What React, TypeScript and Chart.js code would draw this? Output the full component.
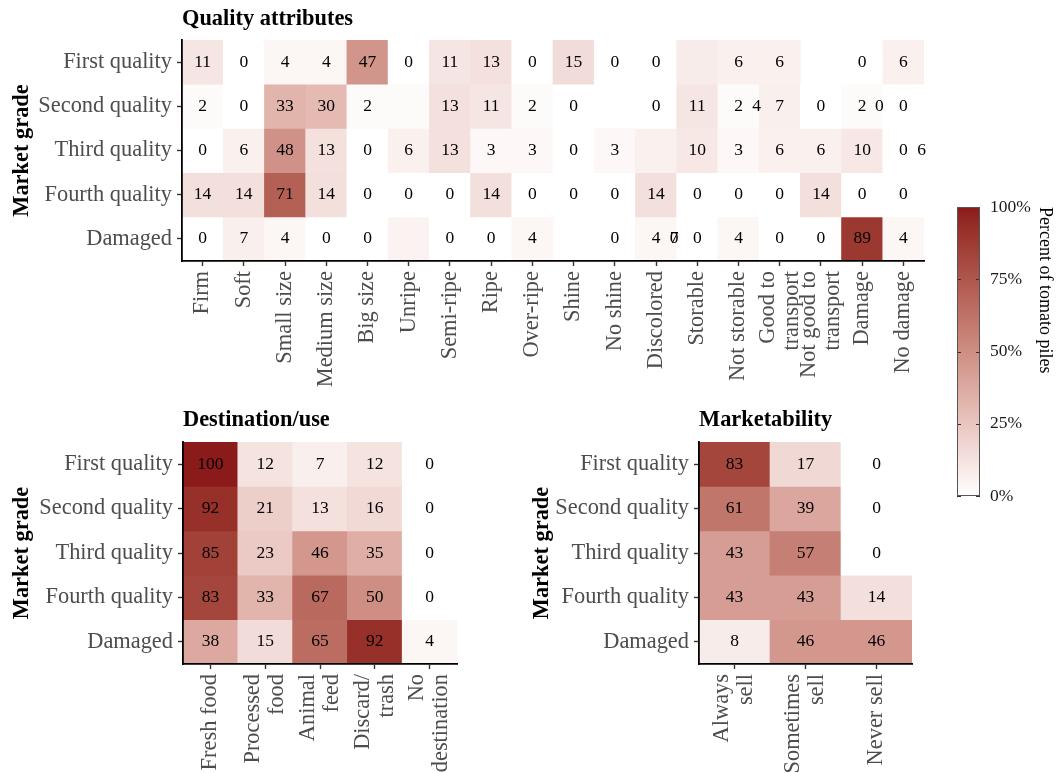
import React, { useEffect, useRef } from "react";
import { Chart, registerables } from "chart.js";

Chart.register(...registerables);

type Cell = number | null;

const SERIF = "'Liberation Serif', 'Times New Roman', Times, serif";

// Market grades, one heatmap row each (top to bottom)
const grades = ["First quality", "Second quality", "Third quality", "Fourth quality", "Damaged"];

// Quality attributes panel
const qualityAttributes: string[][] = [
  ["Firm"], ["Soft"], ["Small size"], ["Medium size"], ["Big size"], ["Unripe"],
  ["Semi-ripe"], ["Ripe"], ["Over-ripe"], ["Shine"], ["No shine"], ["Discolored"],
  ["Storable"], ["Not storable"], ["Good to", "transport"], ["Not good to", "transport"],
  ["Damage"], ["No damage"],
];
const qualityPct: Cell[][] = [
  [11, 0, 4, 4, 47, 0, 11, 13, 0, 15, 0, 0, 8, 6, 6, null, 0, 6],
  [2, 0, 33, 30, 2, 2, 13, 11, 2, 0, null, 0, 11, 2, 7, 0, 2, 0],
  [0, 6, 48, 13, 0, 6, 13, 3, 3, 0, 3, 6, 10, 3, 6, 6, 10, 0],
  [14, 14, 71, 14, 0, 0, 0, 14, 0, 0, 0, 14, 0, 0, 0, 14, 0, 0],
  [0, 7, 4, 0, 0, 5, 0, 0, 4, null, 0, 4, 0, 4, 0, 0, 89, 4],
];
// tiles printed without a number: [row, column]
const qualityUnlabeled: [number, number][] = [[0, 12], [1, 5], [2, 11], [4, 5]];
// numbers printed between columns (category position, in column units)
const qualityExtraLabels = [
  { row: 1, pos: 13.44, text: "4" },
  { row: 1, pos: 16.42, text: "0" },
  { row: 2, pos: 17.44, text: "6" },
  { row: 4, pos: 11.44, text: "0" },
  { row: 4, pos: 11.44, text: "7" },
];

// Destination/use panel
const destinationUses: string[][] = [
  ["Fresh food"], ["Processed", "food"], ["Animal", "feed"], ["Discard/", "trash"], ["No", "destination"],
];
const destinationPct: Cell[][] = [
  [100, 12, 7, 12, 0],
  [92, 21, 13, 16, 0],
  [85, 23, 46, 35, 0],
  [83, 33, 67, 50, 0],
  [38, 15, 65, 92, 4],
];

// Marketability panel
const marketOutcomes: string[][] = [["Always", "sell"], ["Sometimes", "sell"], ["Never sell"]];
const marketPct: Cell[][] = [
  [83, 17, 0],
  [61, 39, 0],
  [43, 57, 0],
  [43, 43, 14],
  [8, 46, 46],
];

// Colour bar
const legendTicks = [0, 25, 50, 75, 100];
const legendTitle = "Percent of tomato piles";
const LOW_RGB = [255, 255, 255];
const HIGH_RGB = [139, 26, 26];

// ---- colour scale: white -> firebrick, interpolated in CIE Lab ----
function toLinear(c: number) {
  const v = c / 255;
  return v <= 0.04045 ? v / 12.92 : Math.pow((v + 0.055) / 1.055, 2.4);
}
function fromLinear(c: number) {
  const v = c <= 0.0031308 ? 12.92 * c : 1.055 * Math.pow(c, 1 / 2.4) - 0.055;
  return Math.round(Math.min(1, Math.max(0, v)) * 255);
}
function rgbToLab(rgb: number[]) {
  const [R, G, B] = rgb.map(toLinear);
  const X = (0.4124564 * R + 0.3575761 * G + 0.1804375 * B) / 0.95047;
  const Y = 0.2126729 * R + 0.7151522 * G + 0.072175 * B;
  const Z = (0.0193339 * R + 0.119192 * G + 0.9503041 * B) / 1.08883;
  const f = (t: number) => (t > 0.008856 ? Math.cbrt(t) : 7.787 * t + 16 / 116);
  const fx = f(X), fy = f(Y), fz = f(Z);
  return [116 * fy - 16, 500 * (fx - fy), 200 * (fy - fz)];
}
function labToRgb(lab: number[]) {
  const [L, a, b] = lab;
  const fy = (L + 16) / 116, fx = fy + a / 500, fz = fy - b / 200;
  const inv = (t: number) => (t * t * t > 0.008856 ? t * t * t : (t - 16 / 116) / 7.787);
  const X = inv(fx) * 0.95047, Y = inv(fy), Z = inv(fz) * 1.08883;
  const R = 3.2404542 * X - 1.5371385 * Y - 0.4985314 * Z;
  const G = -0.969266 * X + 1.8760108 * Y + 0.041556 * Z;
  const B = 0.0556434 * X - 0.2040259 * Y + 1.0572252 * Z;
  return [fromLinear(R), fromLinear(G), fromLinear(B)];
}
const LOW_LAB = rgbToLab(LOW_RGB);
const HIGH_LAB = rgbToLab(HIGH_RGB);
function fillColor(v: number) {
  const t = Math.max(0, Math.min(1, v / 100));
  const lab = LOW_LAB.map((l, i) => l + (HIGH_LAB[i] - l) * t);
  const [r, g, b] = labToRgb(lab);
  return `rgb(${r},${g},${b})`;
}

// ---- heatmap panels ----
interface Box { x: number; y: number; w: number; h: number }
interface Area { L: number; T: number; R: number; B: number }
interface PanelSpec {
  box: Box;
  area: Area;
  title: string;
  titleBaseline: number;
  cols: string[][];
  values: Cell[][];
  unlabeled?: [number, number][];
  extra?: { row: number; pos: number; text: string }[];
}

const TICK_FONT = 22.4;
const CELL_FONT = 17.5;
const LINE_GAP = 24;

function heatmapConfig(p: PanelSpec): any {
  const { box, area, cols, values } = p;
  const unlabeled = new Set((p.unlabeled || []).map(([r, c]) => `${r}:${c}`));
  const extra = p.extra || [];

  const datasets = grades.map((g, r) => ({
    label: g,
    data: cols.map((_, c) => (values[r][c] == null ? null : [r - 0.5, r + 0.5])),
    backgroundColor: cols.map((_, c) => (values[r][c] == null ? "rgba(0,0,0,0)" : fillColor(values[r][c] as number))),
    borderWidth: 0,
    categoryPercentage: 1,
    barPercentage: 1,
    grouped: false,
  }));

  const textPlugin = {
    id: "panelText",
    afterDatasetsDraw(chart: any) {
      const ctx = chart.ctx;
      const xs = chart.scales.x;
      const ys = chart.scales.y;
      ctx.save();
      ctx.font = `${CELL_FONT}px ${SERIF}`;
      ctx.fillStyle = "#000";
      ctx.textAlign = "center";
      ctx.textBaseline = "middle";
      values.forEach((row, r) =>
        row.forEach((v, c) => {
          if (v == null || unlabeled.has(`${r}:${c}`)) return;
          ctx.fillText(String(v), xs.getPixelForValue(c), ys.getPixelForValue(r));
        })
      );
      extra.forEach((e) => ctx.fillText(e.text, xs.getPixelForValue(e.pos), ys.getPixelForValue(e.row)));
      ctx.restore();
    },
    afterDraw(chart: any) {
      const ctx = chart.ctx;
      const xs = chart.scales.x;
      const ca = chart.chartArea;
      ctx.save();
      // rotated category labels, each line right-aligned under its tick
      ctx.font = `${TICK_FONT}px ${SERIF}`;
      ctx.fillStyle = "#4D4D4D";
      ctx.textAlign = "right";
      ctx.textBaseline = "middle";
      cols.forEach((lines, i) => {
        const x = xs.getPixelForTick(i);
        lines.forEach((line, j) => {
          const dx = (j - (lines.length - 1) / 2) * LINE_GAP;
          ctx.save();
          ctx.translate(x + dx, ca.bottom + 10);
          ctx.rotate(-Math.PI / 2);
          ctx.fillText(line, 0, 0);
          ctx.restore();
        });
      });
      // panel title
      ctx.font = `bold ${TICK_FONT}px ${SERIF}`;
      ctx.fillStyle = "#000";
      ctx.textAlign = "left";
      ctx.textBaseline = "alphabetic";
      ctx.fillText(p.title, ca.left, p.titleBaseline - box.y);
      // y axis title
      ctx.save();
      ctx.translate(28, (ca.top + ca.bottom) / 2);
      ctx.rotate(-Math.PI / 2);
      ctx.textAlign = "center";
      ctx.fillText("Market grade", 0, 0);
      ctx.restore();
      ctx.restore();
    },
  };

  const axisGrid = {
    display: true,
    offset: false,
    z: 1,
    drawOnChartArea: false,
    drawTicks: true,
    tickLength: 5,
    tickColor: "#333333",
    tickWidth: 1.4,
  };
  const axisBorder = { display: true, color: "#000", width: 1.8, z: 1 };

  return {
    type: "bar",
    data: { labels: cols.map((c) => c.join(" ")), datasets },
    options: {
      animation: false,
      responsive: false,
      events: [],
      layout: { padding: { left: 0, top: area.T - box.y, right: box.x + box.w - area.R, bottom: 0 } },
      plugins: { legend: { display: false }, tooltip: { enabled: false }, title: { display: false } },
      scales: {
        x: {
          type: "category",
          offset: true,
          grid: axisGrid,
          border: axisBorder,
          ticks: { display: false },
          afterFit: (s: any) => {
            s.height = box.y + box.h - area.B;
          },
        },
        y: {
          type: "linear",
          reverse: true,
          min: -0.5,
          max: grades.length - 0.5,
          afterBuildTicks: (s: any) => {
            s.ticks = grades.map((_, i) => ({ value: i }));
          },
          grid: axisGrid,
          border: axisBorder,
          ticks: {
            autoSkip: false,
            padding: 5,
            color: "#4D4D4D",
            font: { family: SERIF, size: TICK_FONT },
            callback: (v: any) => grades[Math.round(Number(v))] ?? "",
          },
          afterFit: (s: any) => {
            s.width = area.L - box.x;
          },
        },
      },
    },
    plugins: [textPlugin],
  };
}

function colorbarConfig(box: Box, area: Area): any {
  const barPlugin = {
    id: "barFrame",
    afterDatasetsDraw(chart: any) {
      const ctx = chart.ctx;
      const ca = chart.chartArea;
      const ys = chart.scales.y;
      ctx.save();
      ctx.strokeStyle = "#333333";
      ctx.lineWidth = 1;
      legendTicks.forEach((v) => {
        const y = Math.round(ys.getPixelForValue(v)) + 0.5;
        ctx.beginPath();
        ctx.moveTo(ca.left, y);
        ctx.lineTo(ca.left + 4, y);
        ctx.moveTo(ca.right - 4, y);
        ctx.lineTo(ca.right, y);
        ctx.stroke();
      });
      ctx.strokeStyle = "#555555";
      ctx.strokeRect(Math.round(ca.left) + 0.5, Math.round(ca.top) + 0.5, Math.round(ca.right - ca.left) - 1, Math.round(ca.bottom - ca.top) - 1);
      // legend title, reading downwards
      ctx.translate(1040 - box.x, ca.top);
      ctx.rotate(Math.PI / 2);
      ctx.font = `18px ${SERIF}`;
      ctx.fillStyle = "#000";
      ctx.textAlign = "left";
      ctx.textBaseline = "alphabetic";
      ctx.fillText(legendTitle, 0, 0);
      ctx.restore();
    },
  };

  return {
    type: "bar",
    data: {
      labels: [""],
      datasets: [
        {
          data: [[0, 100]],
          borderWidth: 0,
          categoryPercentage: 1,
          barPercentage: 1,
          backgroundColor: (c: any) => {
            const { ctx, chartArea } = c.chart;
            if (!chartArea) return fillColor(50);
            const g = ctx.createLinearGradient(0, chartArea.bottom, 0, chartArea.top);
            for (let i = 0; i <= 20; i++) g.addColorStop(i / 20, fillColor(i * 5));
            return g;
          },
        },
      ],
    },
    options: {
      animation: false,
      responsive: false,
      events: [],
      layout: { padding: { left: area.L - box.x, top: area.T - box.y, right: 0, bottom: box.y + box.h - area.B } },
      plugins: { legend: { display: false }, tooltip: { enabled: false } },
      scales: {
        x: { display: false, offset: true },
        y: {
          position: "right",
          min: 0,
          max: 100,
          afterBuildTicks: (s: any) => {
            s.ticks = legendTicks.map((v) => ({ value: v }));
          },
          grid: { display: false, drawTicks: false },
          border: { display: false },
          ticks: {
            padding: 10,
            color: "#1A1A1A",
            font: { family: SERIF, size: 17.5 },
            callback: (v: any) => `${v}%`,
          },
          afterFit: (s: any) => {
            s.width = box.x + box.w - area.R;
          },
        },
      },
    },
    plugins: [barPlugin],
  };
}

function ChartCanvas({ box, build }: { box: Box; build: () => any }) {
  const ref = useRef<HTMLCanvasElement>(null);
  useEffect(() => {
    if (!ref.current) return;
    const chart = new Chart(ref.current, build());
    return () => chart.destroy();
  }, []);
  return (
    <canvas
      ref={ref}
      width={box.w}
      height={box.h}
      style={{ position: "absolute", left: box.x, top: box.y, width: box.w, height: box.h }}
    />
  );
}

const qualityPanel: PanelSpec = {
  box: { x: 0, y: 0, w: 940, h: 400 },
  area: { L: 182, T: 40, R: 924, B: 261 },
  title: "Quality attributes",
  titleBaseline: 25,
  cols: qualityAttributes,
  values: qualityPct,
  unlabeled: qualityUnlabeled,
  extra: qualityExtraLabels,
};

const destinationPanel: PanelSpec = {
  box: { x: 0, y: 395, w: 520, h: 378 },
  area: { L: 183, T: 442, R: 457, B: 664 },
  title: "Destination/use",
  titleBaseline: 426,
  cols: destinationUses,
  values: destinationPct,
};

const marketPanel: PanelSpec = {
  box: { x: 520, y: 395, w: 420, h: 378 },
  area: { L: 699, T: 442, R: 912, B: 664 },
  title: "Marketability",
  titleBaseline: 426,
  cols: marketOutcomes,
  values: marketPct,
};

const legendBox: Box = { x: 940, y: 180, w: 118, h: 340 };
const legendArea: Area = { L: 957, T: 207, R: 980, B: 496 };

export default function App() {
  return (
    <div style={{ position: "fixed", left: 0, top: 0, width: 1058, height: 773, background: "#fff", overflow: "hidden" }}>
      {[qualityPanel, destinationPanel, marketPanel].map((p) => (
        <ChartCanvas key={p.title} box={p.box} build={() => heatmapConfig(p)} />
      ))}
      <ChartCanvas box={legendBox} build={() => colorbarConfig(legendBox, legendArea)} />
    </div>
  );
}
